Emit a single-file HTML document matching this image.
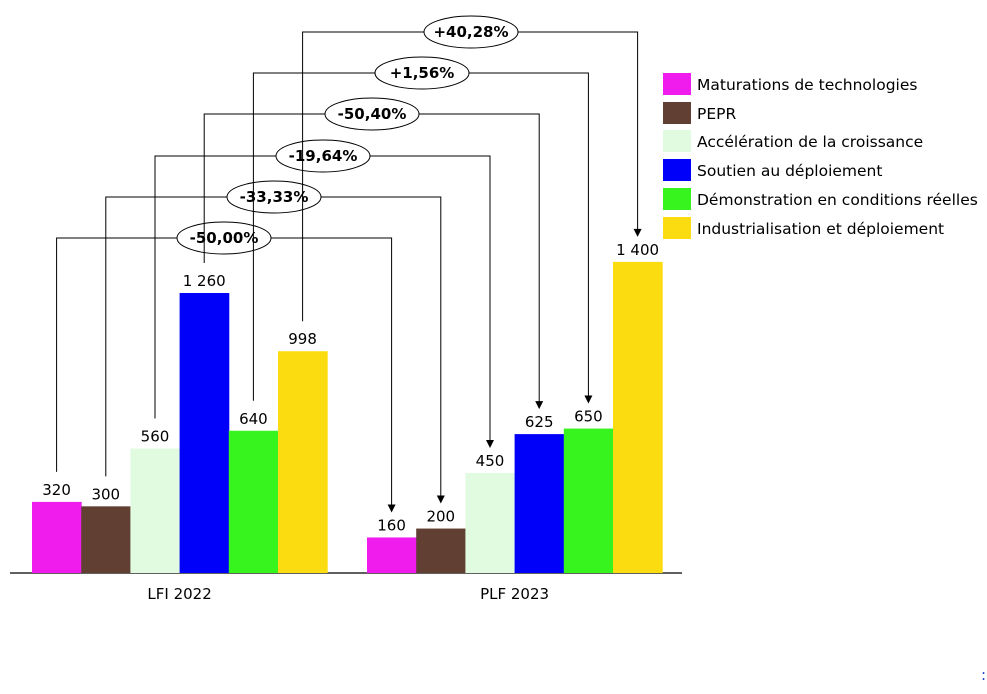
<!DOCTYPE html>
<html><head><meta charset="utf-8"><style>
body{margin:0;background:#fff;width:987px;height:689px;overflow:hidden;font-family:"Liberation Sans",sans-serif}
svg text{font-family:"DejaVu Sans","Liberation Sans",sans-serif}
</style></head><body>
<svg id="chart" width="987" height="689" xmlns="http://www.w3.org/2000/svg"></svg>
<script>
const categories = ["LFI  2022", "PLF 2023"];
const seriesNames = ["Maturations de technologies","PEPR","Accélération de la croissance","Soutien au déploiement","Démonstration en conditions réelles","Industrialisation et déploiement"];
const values2022 = [320, 300, 560, 1260, 640, 998];
const values2023 = [160, 200, 450, 625, 650, 1400];
const valueLabels2022 = ["320","300","560","1 260","640","998"];
const valueLabels2023 = ["160","200","450","625","650","1 400"];
const changeLabels = ["-50,00%","-33,33%","-19,64%","-50,40%","+1,56%","+40,28%"];
const colors = ["#F01CEE","#623F33","#E1FBE0","#0000FA","#38F41E","#FADC10"];

const svg = document.getElementById('chart');
const NS = "http://www.w3.org/2000/svg";
function mk(tag, attrs){const e=document.createElementNS(NS,tag);for(const k in attrs)e.setAttribute(k,attrs[k]);svg.appendChild(e);return e;}
const baseY = 573, scale = 280/1260, barW = 49.2;
const groupX = [32, 367];
function y(v){return baseY - v*scale;}
function bx(g,i){return groupX[g]+i*barW;}

const ax = mk('line',{x1:10,y1:baseY,x2:682,y2:baseY,stroke:'#000','stroke-width':1.3});



const data=[values2022,values2023], labs=[valueLabels2022,valueLabels2023];
for(let g=0;g<2;g++){
  for(let i=0;i<6;i++){
    const v=data[g][i];
    const r=mk('rect',{x:bx(g,i),y:y(v),width:barW+0.5,height:v*scale,fill:colors[i]});
    
    
    const t=mk('text',{x:bx(g,i)+barW/2,y:y(v)-7,'text-anchor':'middle','font-size':15,fill:'#000'});
    t.textContent=labs[g][i];
    
    
  }
  const c=mk('text',{x:groupX[g]+3*barW,y:599,'text-anchor':'middle','font-size':15,fill:'#000'});
  c.textContent=categories[g];
  
  
}

const levels=[238,197,156,114,73,32];
const ellX=[224,274,323,372,422,471];
for(let i=0;i<6;i++){
  const x1=bx(0,i)+barW/2, x2=bx(1,i)+barW/2;
  const yTop1=y(values2022[i])-30, yTop2=y(values2023[i])-25;
  const L=levels[i];
  const p=mk('polyline',{points:`${x1},${yTop1} ${x1},${L} ${x2},${L} ${x2},${yTop2-6}`,fill:'none',stroke:'#000','stroke-width':1});
  
  
  const a=mk('polygon',{points:`${x2-4},${yTop2-8} ${x2+4},${yTop2-8} ${x2},${yTop2}`,fill:'#000'});
  
  
  const e=mk('ellipse',{cx:ellX[i],cy:L,rx:47,ry:16,fill:'#fff',stroke:'#000','stroke-width':1});
  
  
  const t=mk('text',{x:ellX[i],y:L+5,'text-anchor':'middle','font-size':15,'font-weight':'bold',fill:'#000'});
  t.textContent=changeLabels[i];
  
  
}

const legY=[84,113,141,170,199,228];
for(let i=0;i<6;i++){
  const r=mk('rect',{x:663,y:legY[i]-11,width:28,height:22,fill:colors[i]});
  
  
  const t=mk('text',{x:697,y:legY[i]+6,'font-size':15.5,fill:'#000'});
  t.textContent=seriesNames[i];
  
  
}
const col=mk('text',{x:981,y:680,'font-size':15,fill:'#1F3FBF'});
col.textContent=":";


</script>
</body></html>
